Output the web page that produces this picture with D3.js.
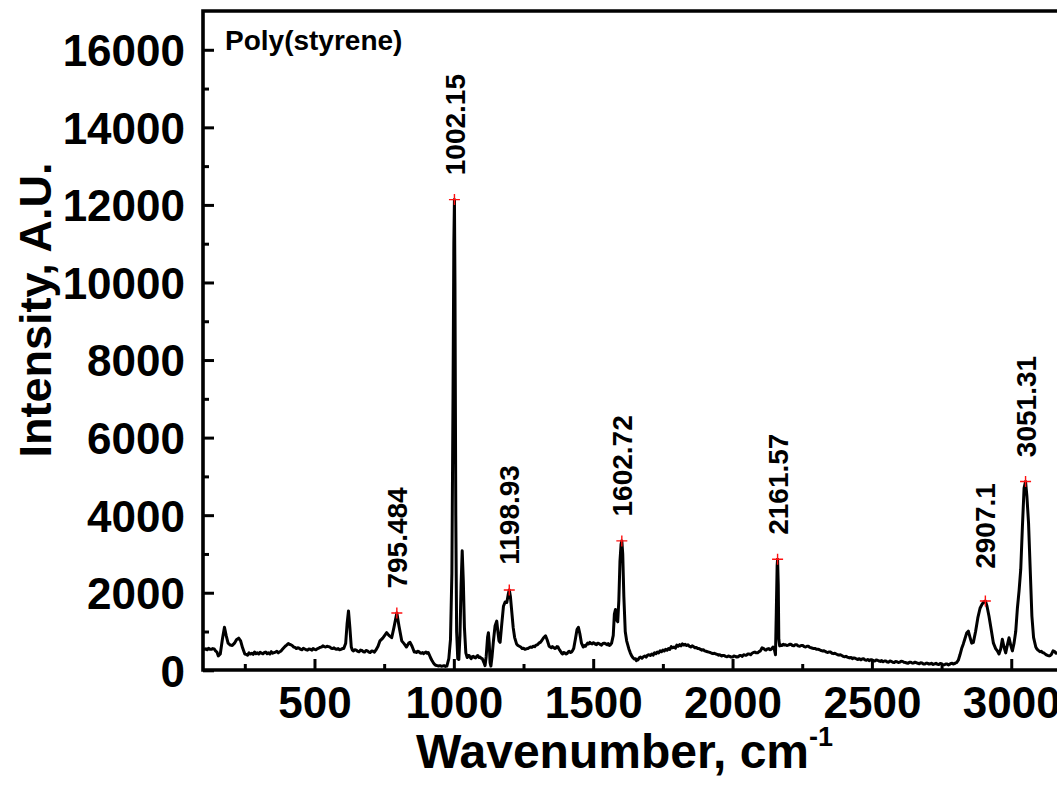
<!DOCTYPE html>
<html>
<head>
<meta charset="utf-8">
<script src="https://cdn.jsdelivr.net/npm/d3@7"></script>
<style>
  html, body { margin: 0; padding: 0; background: #fff; overflow: hidden; }
  svg { display: block; font-family: "Liberation Sans", Arial, Helvetica, sans-serif; }
</style>
</head>
<body>
<svg id="chart" width="1057" height="800"></svg>
<script>
// Raman spectrum of polystyrene: [Raman shift (cm^-1), intensity (A.U.)]
const spectrum = [
  [100,560],[105,540],[110,555],[115,530],[120,570],[125,545],[130,540],[135,560],[140,550],[145,500],
  [150,470],[155,370],[162,420],[170,820],[177,1110],[183,900],[190,700],[198,650],[205,640],[213,700],
  [220,790],[228,830],[235,760],[242,580],[250,420],[255,410],[260,390],[265,450],[270,420],[275,440],
  [280,410],[285,470],[290,430],[295,450],[300,420],[305,465],[310,440],[315,425],[320,460],[325,470],
  [330,430],[335,450],[340,420],[345,480],[350,440],[355,455],[360,470],[365,490],[370,450],[375,475],
  [380,500],[385,540],[390,580],[395,620],[400,650],[406,690],[410,670],[415,660],[420,640],[425,600],
  [430,590],[435,560],[440,580],[445,570],[450,540],[455,530],[460,570],[465,550],[470,530],[475,520],
  [480,550],[485,545],[490,520],[495,560],[500,540],[505,530],[510,555],[515,570],[520,590],[525,600],
  [530,630],[535,610],[540,600],[545,620],[550,610],[555,600],[560,570],[565,560],[570,580],[575,550],
  [580,540],[585,560],[590,530],[595,540],[600,560],[605,560],[612,700],[617,1200],[622,1530],[627,1100],
  [632,600],[636,520],[640,500],[645,530],[650,520],[655,490],[660,480],[665,520],[670,510],[675,480],
  [680,470],[685,510],[690,500],[695,470],[700,460],[705,500],[710,490],[715,470],[720,520],[728,620],
  [735,760],[745,830],[752,900],[759,970],[767,900],[777,840],[785,1100],[795.484,1479],[803,1150],[813,760],
  [822,680],[830,600],[838,700],[843,720],[850,620],[858,470],[862,480],[866,460],[870,490],[875,480],
  [879,450],[883,440],[888,460],[892,430],[896,450],[900,470],[904,440],[908,460],[912,400],[916,330],
  [921,260],[926,200],[930,160],[935,130],[940,120],[945,110],[950,120],[955,105],[960,110],[965,120],
  [970,100],[975,110],[982,300],[988,800],[993,2500],[997,7000],[1000,11000],[1002.15,12137],[1004,10000],[1007,4000],
  [1010,1000],[1014,300],[1018,280],[1022,900],[1026,2200],[1030,3080],[1034,2300],[1038,1100],[1043,450],[1048,330],
  [1052,380],[1055,380],[1058,340],[1062,300],[1066,350],[1070,360],[1074,330],[1078,320],[1082,360],[1086,380],
  [1090,330],[1094,340],[1098,310],[1102,300],[1108,200],[1112,120],[1116,350],[1121,850],[1124,970],[1127,700],
  [1130,200],[1133,110],[1137,350],[1142,750],[1148,1150],[1154,1270],[1158,1000],[1162,760],[1166,720],[1172,1200],
  [1178,1650],[1184,1760],[1190,1750],[1195,1950],[1198.93,2072],[1203,1900],[1208,1500],[1213,1100],[1218,850],[1225,680],
  [1230,640],[1235,620],[1240,600],[1245,560],[1250,570],[1255,540],[1260,555],[1265,560],[1270,580],[1275,600],
  [1280,590],[1285,620],[1290,610],[1295,650],[1300,660],[1305,700],[1310,720],[1315,760],[1322,840],[1329,890],
  [1335,780],[1342,620],[1346,600],[1350,580],[1354,610],[1358,590],[1362,560],[1366,570],[1370,610],[1374,600],
  [1378,540],[1382,500],[1386,450],[1390,420],[1394,460],[1398,450],[1402,420],[1406,430],[1410,470],[1414,490],
  [1418,460],[1422,470],[1426,510],[1430,560],[1436,800],[1442,1050],[1447,1110],[1452,950],[1458,700],[1464,600],
  [1468,640],[1472,620],[1476,660],[1480,700],[1484,680],[1488,720],[1492,690],[1496,680],[1500,710],[1504,700],
  [1508,670],[1512,660],[1516,700],[1520,690],[1525,670],[1530,650],[1535,690],[1540,700],[1545,680],[1550,660],
  [1554,690],[1558,640],[1562,660],[1566,700],[1572,900],[1576,1450],[1580,1570],[1584,1300],[1588,1250],[1592,1800],
  [1596,2800],[1600,3250],[1602.72,3337],[1606,3000],[1610,1900],[1615,1000],[1620,760],[1628,550],[1633,450],[1638,370],
  [1643,320],[1648,290],[1652,300],[1655,250],[1658,280],[1661,270],[1665,320],[1670,340],[1675,310],[1680,350],
  [1685,370],[1690,340],[1695,390],[1700,400],[1705,380],[1710,420],[1715,390],[1720,450],[1725,430],[1730,470],
  [1735,450],[1740,500],[1745,480],[1750,520],[1755,500],[1760,540],[1765,520],[1770,560],[1775,540],[1780,610],
  [1785,580],[1790,600],[1795,570],[1800,650],[1805,620],[1810,660],[1815,630],[1820,680],[1825,650],[1830,670],
  [1835,640],[1840,660],[1845,620],[1850,600],[1855,630],[1860,610],[1865,580],[1870,590],[1875,560],[1880,560],
  [1885,540],[1890,520],[1895,530],[1900,500],[1905,490],[1910,480],[1915,470],[1920,460],[1925,440],[1930,430],
  [1935,440],[1940,420],[1945,410],[1950,390],[1955,400],[1960,370],[1965,380],[1970,380],[1975,360],[1980,350],
  [1985,370],[1990,360],[1995,340],[2000,340],[2005,370],[2010,360],[2015,340],[2020,350],[2025,380],[2030,380],
  [2035,360],[2040,400],[2045,390],[2050,390],[2055,420],[2060,420],[2065,400],[2070,440],[2075,460],[2080,470],
  [2085,450],[2090,450],[2095,480],[2100,500],[2106,580],[2112,560],[2116,530],[2120,520],[2125,550],[2130,560],
  [2134,530],[2138,540],[2142,570],[2145,600],[2150,540],[2154,400],[2157,1500],[2160,2700],[2161.57,2864],[2164,2200],
  [2166,800],[2169,630],[2174,650],[2178,640],[2182,670],[2186,650],[2190,660],[2195,640],[2200,650],[2205,670],
  [2210,670],[2215,640],[2220,630],[2225,660],[2230,660],[2235,630],[2241,620],[2246,640],[2252,640],[2257,610],
  [2262,600],[2267,620],[2272,620],[2277,590],[2282,580],[2287,570],[2292,560],[2297,560],[2301,540],[2306,545],
  [2312,530],[2317,510],[2322,500],[2327,505],[2332,490],[2337,470],[2342,460],[2347,475],[2352,470],[2357,440],
  [2362,430],[2367,440],[2372,420],[2377,400],[2382,390],[2387,400],[2392,380],[2397,360],[2402,350],[2407,360],
  [2412,340],[2416,330],[2420,320],[2425,330],[2430,300],[2435,320],[2440,310],[2445,290],[2450,280],[2455,300],
  [2460,270],[2465,290],[2470,300],[2475,270],[2480,260],[2485,280],[2490,250],[2495,270],[2500,270],[2505,250],
  [2510,240],[2515,265],[2520,260],[2525,240],[2530,230],[2535,250],[2539,220],[2545,240],[2550,240],[2555,215],
  [2560,210],[2565,240],[2570,230],[2575,205],[2580,200],[2585,225],[2590,220],[2595,200],[2600,210],[2605,235],
  [2610,230],[2615,205],[2620,200],[2625,190],[2630,180],[2635,205],[2640,210],[2645,185],[2650,190],[2655,210],
  [2659,200],[2665,180],[2670,170],[2675,195],[2680,190],[2685,165],[2690,160],[2695,185],[2700,180],[2705,160],
  [2710,170],[2715,180],[2720,150],[2725,165],[2730,180],[2735,155],[2740,150],[2745,175],[2750,170],[2755,145],
  [2760,140],[2765,165],[2770,160],[2775,140],[2778,150],[2783,175],[2788,180],[2792,160],[2796,170],[2800,190],
  [2804,200],[2810,260],[2816,400],[2822,560],[2828,680],[2834,820],[2840,960],[2846,1010],[2852,850],[2858,700],
  [2864,720],[2872,1000],[2880,1350],[2888,1600],[2895,1700],[2901,1760],[2907.1,1788],[2913,1650],[2920,1400],[2928,1050],
  [2936,700],[2944,560],[2950,500],[2956,420],[2962,550],[2968,800],[2974,600],[2980,450],[2986,650],[2992,840],
  [2998,650],[3004,500],[3010,700],[3016,1000],[3022,1600],[3028,2050],[3034,2600],[3040,3700],[3046,4700],[3051.31,4867],
  [3056,4500],[3062,3800],[3068,2600],[3074,1400],[3080,850],[3088,600],[3092,550],[3096,520],[3100,500],[3104,480],
  [3108,490],[3112,460],[3116,450],[3120,430],[3124,410],[3128,390],[3132,380],[3136,370],[3140,380],[3144,410],
  [3150,500],[3156,480],[3160,440],[3165,450]
];

// Labelled peaks (positions in cm^-1, intensities at the peak maxima)
const peakPositions = [795.484, 1002.15, 1198.93, 1602.72, 2161.57, 2907.1, 3051.31];
const peakIntensities = [1479, 12137, 2072, 3337, 2864, 1788, 4867];
const peakLabels = ["795.484", "1002.15", "1198.93", "1602.72", "2161.57", "2907.1", "3051.31"];

const xMajorTicks = [500, 1000, 1500, 2000, 2500, 3000];
const xMinorTicks = [250, 750, 1250, 1750, 2250, 2750];
const yMajorTicks = [0, 2000, 4000, 6000, 8000, 10000, 12000, 14000, 16000];
const yMinorTicks = [1000, 3000, 5000, 7000, 9000, 11000, 13000, 15000];
const sampleName = "Poly(styrene)";

const svg = d3.select("#chart");
const margin = { left: 203, top: 11, bottom: 130 };
const plotW = 864;                       // the frame continues past the right edge of the page
const plotH = 800 - margin.top - margin.bottom;

const x = d3.scaleLinear().domain([100, 3200]).range([0, plotW]);
const y = d3.scaleLinear().domain([0, 17000]).range([plotH + 0.3, 0]);

const g = svg.append("g").attr("transform", `translate(${margin.left},${margin.top})`);

// Spectrum trace
const line = d3.line()
  .x(d => x(d[0]))
  .y(d => y(d[1]));

g.append("path")
  .datum(spectrum)
  .attr("fill", "none")
  .attr("stroke", "#000")
  .attr("stroke-width", 3)
  .attr("stroke-linejoin", "round")
  .attr("d", line);

// Peak markers
const markerSize = 5.5;
const peaks = g.append("g").selectAll("g.peak")
  .data(peakPositions)
  .join("g")
  .attr("class", "peak")
  .attr("transform", (d, i) => `translate(${x(d)},${y(peakIntensities[i])})`);

peaks.append("path")
  .attr("d", `M${-markerSize},0H${markerSize}M0,${-markerSize}V${markerSize}`)
  .attr("stroke", "#ff1010")
  .attr("stroke-width", 1.4)
  .attr("fill", "none");

peaks.append("text")
  .attr("transform", "translate(0,-75) rotate(-90)")
  .attr("text-anchor", "middle")
  .attr("dy", "0.36em")
  .attr("font-size", 28)
  .attr("font-weight", "bold")
  .text((d, i) => peakLabels[i]);

// Axes with inward ticks
const tickStroke = 3;
function styleAxis(sel) {
  sel.select(".domain").remove();
  sel.selectAll(".tick line").attr("stroke", "#000").attr("stroke-width", tickStroke);
}

const xAxis = g.append("g")
  .attr("transform", `translate(0,${plotH})`)
  .call(d3.axisBottom(x).tickValues(xMajorTicks).tickSize(-11).tickFormat(d3.format("d")))
  .call(styleAxis);
xAxis.selectAll(".tick text")
  .attr("y", 48).attr("dy", 0)
  .attr("font-size", 44).attr("font-weight", "bold")
  .attr("fill", "#000")
  .attr("font-family", "Liberation Sans, Arial, sans-serif");

g.append("g")
  .attr("transform", `translate(0,${plotH})`)
  .call(d3.axisBottom(x).tickValues(xMinorTicks).tickSize(-6).tickFormat(""))
  .call(styleAxis);

const yAxis = g.append("g")
  .call(d3.axisLeft(y).tickValues(yMajorTicks).tickSize(-11).tickFormat(d3.format("d")))
  .call(styleAxis);
yAxis.selectAll(".tick text")
  .attr("x", -18).attr("dy", "0.36em")
  .attr("font-size", 44).attr("font-weight", "bold")
  .attr("fill", "#000")
  .attr("font-family", "Liberation Sans, Arial, sans-serif");

g.append("g")
  .call(d3.axisLeft(y).tickValues(yMinorTicks).tickSize(-6).tickFormat(""))
  .call(styleAxis);

// Frame: left, top and bottom edges
g.append("path")
  .attr("d", `M${plotW + 20},0H0V${plotH}H${plotW + 20}`)
  .attr("fill", "none")
  .attr("stroke", "#000")
  .attr("stroke-width", 3.6)
  .attr("stroke-linecap", "square");

// Sample name
g.append("text")
  .attr("x", 22).attr("y", 39)
  .attr("font-size", 28).attr("font-weight", "bold")
  .text(sampleName);

// Axis titles
svg.append("text")
  .attr("transform", "translate(51,310) rotate(-90)")
  .attr("text-anchor", "middle")
  .attr("font-size", 45).attr("font-weight", "bold")
  .text("Intensity, A.U.");

const xTitle = svg.append("text")
  .attr("x", 416).attr("y", 768)
  .attr("text-anchor", "start")
  .attr("font-size", 48).attr("font-weight", "bold");
xTitle.append("tspan").text("Wavenumber, cm");
xTitle.append("tspan").attr("dy", -22).attr("font-size", 27).text("-1");
</script>
</body>
</html>
